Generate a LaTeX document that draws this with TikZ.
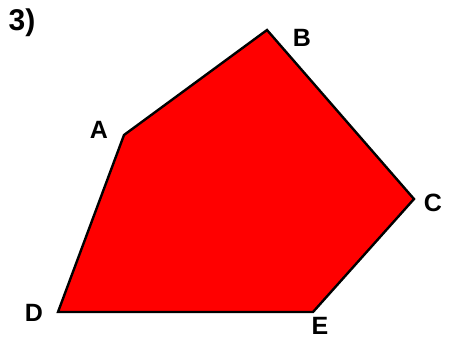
\documentclass[tikz,border=0pt]{standalone}
\usepackage{fontspec}
\setmainfont{Liberation Sans}
\usetikzlibrary{positioning}

\begin{document}
\begin{tikzpicture}[
  x=1pt,y=-1pt,
  every node/.style={font=\fontsize{25}{27}\selectfont\bfseries,inner sep=0pt},
  vlabel/.style={anchor=center},
  face/.style={fill=red,draw=black,line width=2.4pt,line join=miter}
]
  \useasboundingbox (0,0) rectangle (449,346);

  % corners of the pentagon
  \coordinate (a) at (124,135);
  \coordinate (b) at (267,30);
  \coordinate (c) at (414,199);
  \coordinate (e) at (313,312);
  \coordinate (d) at (58,312);

  \filldraw[face] (a) -- (b) -- (c) -- (e) -- (d) -- cycle;

  \node[vlabel,font=\fontsize{30}{32}\selectfont\bfseries] (num) at (22,23) {3)};
  \node[vlabel] (la) at (99,130) {A};
  \node[vlabel] (lb) at (302,38) {B};
  \node[vlabel] (lc) at (433,203) {C};
  \node[vlabel] (ld) at (34,313) {D};
  \node[vlabel] (le) at (320,326) {E};
\end{tikzpicture}
\end{document}
